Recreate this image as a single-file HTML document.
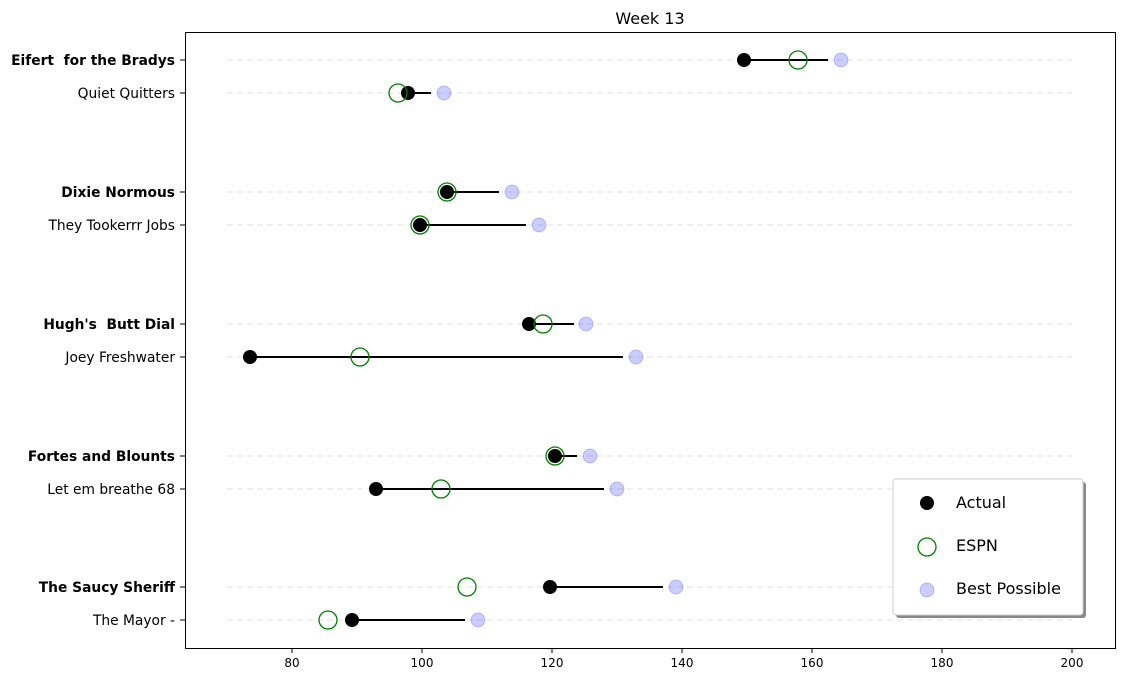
<!DOCTYPE html><html><head><style>body{margin:0;background:#fff}svg{display:block;font-family:"DejaVu Sans","Liberation Sans",sans-serif}.lb text{white-space:pre}</style></head><body>
<svg width="1124" height="682" xmlns="http://www.w3.org/2000/svg">
<rect width="1124" height="682" fill="#fff"/>
<g stroke="#e0e0e0" stroke-dasharray="6,4" stroke-width="1">
<line x1="227" x2="1072" y1="60" y2="60"/><line x1="227" x2="1072" y1="93" y2="93"/>
<line x1="227" x2="1072" y1="192" y2="192"/><line x1="227" x2="1072" y1="225" y2="225"/>
<line x1="227" x2="1072" y1="324" y2="324"/><line x1="227" x2="1072" y1="357" y2="357"/>
<line x1="227" x2="1072" y1="456" y2="456"/><line x1="227" x2="1072" y1="489" y2="489"/>
<line x1="227" x2="1072" y1="587" y2="587"/><line x1="227" x2="1072" y1="620" y2="620"/>
</g>
<g stroke="#000" stroke-width="2">
<line x1="744" x2="828" y1="60" y2="60"/><line x1="408" x2="431" y1="93" y2="93"/>
<line x1="447" x2="499" y1="192" y2="192"/><line x1="420" x2="526" y1="225" y2="225"/>
<line x1="529" x2="574" y1="324" y2="324"/><line x1="250" x2="623" y1="357" y2="357"/>
<line x1="555" x2="577" y1="456" y2="456"/><line x1="376" x2="604" y1="489" y2="489"/>
<line x1="550" x2="663" y1="587" y2="587"/><line x1="352" x2="465" y1="620" y2="620"/>
</g>
<g fill="#0000ff" fill-opacity="0.2" stroke="#0000ff" stroke-opacity="0.2">
<circle cx="841" cy="60" r="7"/><circle cx="444" cy="93" r="7"/><circle cx="512" cy="192" r="7"/><circle cx="539" cy="225" r="7"/><circle cx="586" cy="324" r="7"/><circle cx="636" cy="357" r="7"/><circle cx="590" cy="456" r="7"/><circle cx="617" cy="489" r="7"/><circle cx="676" cy="587" r="7"/><circle cx="478" cy="620" r="7"/>
</g>
<g fill="#000">
<circle cx="744" cy="60" r="7"/><circle cx="408" cy="93" r="7"/><circle cx="447" cy="192" r="7"/><circle cx="420" cy="225" r="7"/><circle cx="529" cy="324" r="7"/><circle cx="250" cy="357" r="7"/><circle cx="555" cy="456" r="7"/><circle cx="376" cy="489" r="7"/><circle cx="550" cy="587" r="7"/><circle cx="352" cy="620" r="7"/>
</g>
<g fill="none" stroke="#008000" stroke-width="1.3">
<circle cx="798" cy="60" r="9"/><circle cx="398" cy="93" r="9"/><circle cx="447" cy="192" r="9"/><circle cx="420" cy="225" r="9"/><circle cx="543" cy="324" r="9"/><circle cx="360" cy="357" r="9"/><circle cx="555" cy="456" r="9"/><circle cx="441" cy="489" r="9"/><circle cx="467" cy="587" r="9"/><circle cx="328" cy="620" r="9"/>
</g>
<rect x="185.5" y="32.5" width="930" height="616" fill="none" stroke="#000" stroke-width="1"/>
<text x="650" y="24" font-size="16" text-anchor="middle">Week 13</text>
<g class="lb" font-size="13.8" text-anchor="end">
<text x="175" y="65" font-weight="bold" xml:space="preserve">Eifert  for the Bradys</text>
<text x="175" y="98">Quiet Quitters</text>
<text x="175" y="197" font-weight="bold">Dixie Normous</text>
<text x="175" y="230">They Tookerrr Jobs</text>
<text x="175" y="329" font-weight="bold" xml:space="preserve">Hugh's  Butt Dial</text>
<text x="175" y="362">Joey Freshwater</text>
<text x="175" y="461" font-weight="bold">Fortes and Blounts</text>
<text x="175" y="494">Let em breathe 68</text>
<text x="175" y="592" font-weight="bold">The Saucy Sheriff</text>
<text x="175" y="625">The Mayor -</text>
</g>
<g stroke="#000"><line x1="180" x2="185" y1="60" y2="60"/><line x1="180" x2="185" y1="93" y2="93"/><line x1="180" x2="185" y1="192" y2="192"/><line x1="180" x2="185" y1="225" y2="225"/><line x1="180" x2="185" y1="324" y2="324"/><line x1="180" x2="185" y1="357" y2="357"/><line x1="180" x2="185" y1="456" y2="456"/><line x1="180" x2="185" y1="489" y2="489"/><line x1="180" x2="185" y1="587" y2="587"/><line x1="180" x2="185" y1="620" y2="620"/>
<line x1="292" x2="292" y1="648" y2="653"/><line x1="422" x2="422" y1="648" y2="653"/><line x1="552" x2="552" y1="648" y2="653"/><line x1="682" x2="682" y1="648" y2="653"/><line x1="812" x2="812" y1="648" y2="653"/><line x1="942" x2="942" y1="648" y2="653"/><line x1="1072" x2="1072" y1="648" y2="653"/></g>
<g font-size="12" text-anchor="middle">
<text x="292" y="667">80</text><text x="422" y="667">100</text><text x="552" y="667">120</text><text x="682" y="667">140</text><text x="812" y="667">160</text><text x="942" y="667">180</text><text x="1072" y="667">200</text>
</g>
<rect x="896" y="482" width="190" height="136" rx="3" fill="#888"/>
<rect x="893" y="479" width="190" height="136" rx="3" fill="#fff" stroke="#ccc"/>
<circle cx="927" cy="503" r="7" fill="#000"/>
<circle cx="927" cy="547" r="9" fill="none" stroke="#008000" stroke-width="1.3"/>
<circle cx="927" cy="590" r="7" fill="#0000ff" fill-opacity="0.2" stroke="#0000ff" stroke-opacity="0.2"/>
<g font-size="16"><text x="956" y="508">Actual</text><text x="956" y="551">ESPN</text><text x="956" y="594">Best Possible</text></g>
</svg></body></html>
